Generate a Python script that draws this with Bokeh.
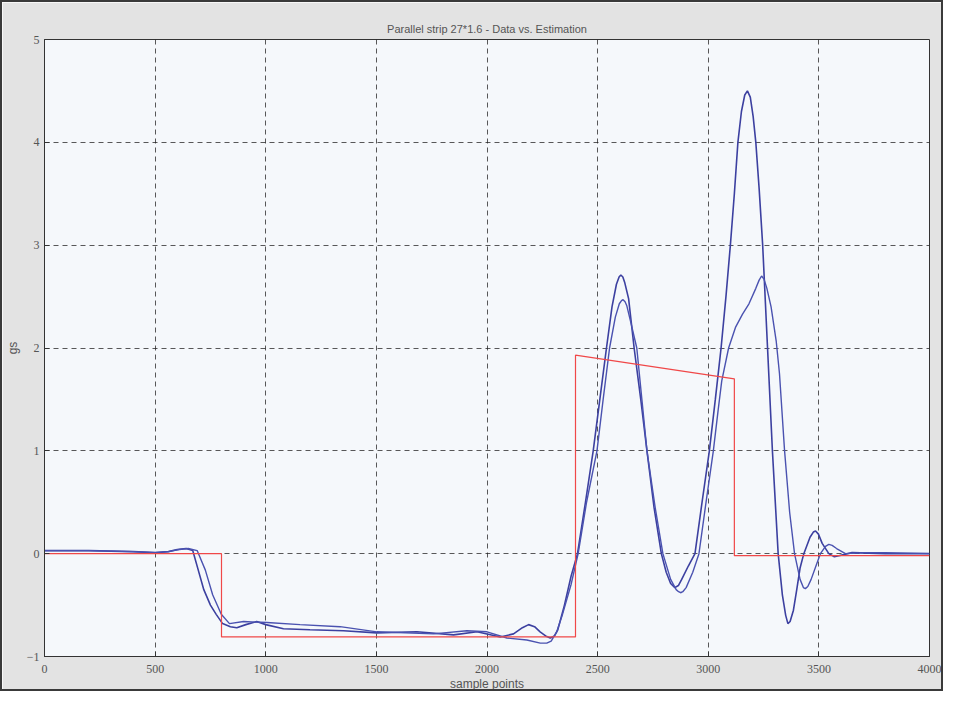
from bokeh.plotting import figure
from bokeh.models import FixedTicker, Range1d
from bokeh.embed import file_html
from bokeh.resources import INLINE

# ---- data ----
x_ticks = [0, 500, 1000, 1500, 2000, 2500, 3000, 3500, 4000]
y_ticks = [-1, 0, 1, 2, 3, 4, 5]

# estimation (red step signal)
est_x = [0, 800, 800, 2400, 2400, 3118, 3118, 4000]
est_y = [0.0, 0.0, -0.81, -0.81, 1.93, 1.70, -0.02, -0.02]

# measured signal 1 (leading curve, big peak)
a_x = [0, 200, 400, 500, 560, 600, 640, 670, 695, 720, 750, 776, 805, 840, 869, 910,
       959, 1000, 1080, 1200, 1351, 1502, 1683, 1849, 1955, 2060, 2120, 2160, 2188,
       2215, 2240, 2265, 2286, 2305, 2320, 2350, 2380, 2409, 2445, 2480, 2510, 2540,
       2565, 2585, 2597, 2605, 2614, 2622, 2640, 2665, 2695, 2723, 2755, 2788, 2810,
       2830, 2849, 2865, 2880, 2910, 2940, 2972, 3005, 3032, 3058, 3080, 3100, 3118,
       3134, 3150, 3165, 3177, 3190, 3203, 3215, 3230, 3246, 3268, 3290, 3316, 3335,
       3350, 3360, 3370, 3385, 3400, 3415, 3432, 3460, 3475, 3485, 3498, 3515, 3545,
       3570, 3590, 3650, 3800, 4000]
a_y = [0.03, 0.03, 0.02, 0.01, 0.02, 0.04, 0.05, 0.03, -0.16, -0.35, -0.50, -0.59,
       -0.68, -0.71, -0.72, -0.69, -0.66, -0.69, -0.73, -0.74, -0.75, -0.77, -0.76,
       -0.79, -0.76, -0.81, -0.78, -0.72, -0.69, -0.71, -0.76, -0.80, -0.82, -0.80,
       -0.74, -0.50, -0.22, 0.0, 0.50, 1.0, 1.5, 2.0, 2.40, 2.62, 2.69, 2.71, 2.69,
       2.64, 2.48, 2.0, 1.50, 1.0, 0.45, 0.0, -0.18, -0.29, -0.33, -0.31, -0.25,
       -0.12, 0.0, 0.50, 1.0, 1.50, 2.0, 2.50, 3.0, 3.50, 4.0, 4.30, 4.46, 4.50,
       4.44, 4.25, 4.0, 3.55, 3.0, 2.0, 1.0, 0.0, -0.40, -0.60, -0.68, -0.66, -0.55,
       -0.35, -0.14, 0.0, 0.16, 0.21, 0.22, 0.19, 0.10, 0.0, -0.03, -0.02, 0.01,
       0.0, 0.0]

# model estimate 2 (trailing curve)
b_x = [0, 200, 400, 500, 560, 610, 650, 690, 727, 760, 799, 836, 900, 1005, 1155,
       1336, 1502, 1758, 1909, 2000, 2090, 2180, 2241, 2270, 2290, 2315, 2340, 2380,
       2412, 2450, 2497, 2525, 2554, 2580, 2598, 2608, 2615, 2624, 2632, 2650, 2677,
       2700, 2723, 2760, 2795, 2830, 2855, 2866, 2875, 2885, 2900, 2930, 2958, 2990,
       3023, 3045, 3061, 3092, 3123, 3155, 3184, 3215, 3230, 3241, 3252, 3265, 3284,
       3307, 3322, 3345, 3368, 3390, 3415, 3430, 3439, 3450, 3465, 3490, 3507, 3530,
       3545, 3560, 3580, 3620, 3700, 3800, 4000]
b_y = [0.03, 0.03, 0.02, 0.01, 0.02, 0.04, 0.05, 0.03, -0.16, -0.40, -0.59, -0.68,
       -0.66, -0.67, -0.69, -0.71, -0.76, -0.78, -0.75, -0.76, -0.82, -0.84, -0.87,
       -0.87, -0.85, -0.76, -0.60, -0.30, 0.0, 0.50, 1.0, 1.50, 2.0, 2.30, 2.43,
       2.46, 2.47, 2.45, 2.41, 2.25, 2.0, 1.50, 1.0, 0.45, 0.0, -0.25, -0.35, -0.37,
       -0.38, -0.37, -0.33, -0.18, 0.0, 0.50, 1.0, 1.40, 1.68, 2.0, 2.20, 2.33,
       2.43, 2.58, 2.66, 2.70, 2.67, 2.58, 2.40, 2.07, 1.75, 1.0, 0.40, 0.0, -0.25,
       -0.33, -0.34, -0.32, -0.25, -0.10, 0.0, 0.07, 0.09, 0.08, 0.05, 0.0, 0.01,
       0.01, 0.0]

TICK_FONT = "Liberation Sans Narrow"

p = figure(width=943, height=691, output_backend="svg", toolbar_location=None,
           x_range=Range1d(0, 4000), y_range=Range1d(-1, 5),
           title="Parallel strip 27*1.6 - Data vs. Estimation",
           min_border_left=33, min_border_right=16, min_border_top=37,
           min_border_bottom=30)

p.styles = {"border": "2px solid #3a3a3a", "box-sizing": "border-box"}

p.background_fill_color = "#f5f8fb"
p.border_fill_color = "#e3e3e3"
p.outline_line_color = "#333333"
p.outline_line_width = 1

p.title.align = "center"
p.title.text_font = "Liberation Sans"
p.title.text_font_style = "normal"
p.title.text_font_size = "11px"
p.title.text_color = "#555555"

for ax in (p.xaxis, p.yaxis):
    ax.axis_line_color = "#333333"
    ax.major_tick_in = 5
    ax.major_tick_out = 0
    ax.minor_tick_line_color = None
    ax.major_tick_line_color = "#333333"
    ax.major_label_text_font = TICK_FONT
    ax.major_label_text_font_size = "12px"
    ax.major_label_text_color = "#555555"
    ax.axis_label_text_font = "Liberation Sans"
    ax.axis_label_text_font_style = "normal"
    ax.axis_label_text_font_size = "12px"
    ax.axis_label_text_color = "#555555"

p.xaxis.ticker = FixedTicker(ticks=x_ticks)
p.yaxis.ticker = FixedTicker(ticks=y_ticks)
p.xaxis.axis_label = "sample points"
p.yaxis.axis_label = "gs"
p.xaxis.major_label_standoff = 8
p.yaxis.major_label_standoff = 5
p.xaxis.axis_label_standoff = 1
p.yaxis.axis_label_standoff = 4

for g in (p.xgrid, p.ygrid):
    g.grid_line_color = "#222222"
    g.grid_line_dash = "5 4"
    g.grid_line_alpha = 0.75
    g.grid_line_width = 1

p.line(a_x, a_y, line_color="#3c40a0", line_width=1.6)
p.line(b_x, b_y, line_color="#4a52b0", line_width=1.4)
p.line(est_x, est_y, line_color="#f04848", line_width=1.2)

open("out.html", "w").write(file_html(p, INLINE))
